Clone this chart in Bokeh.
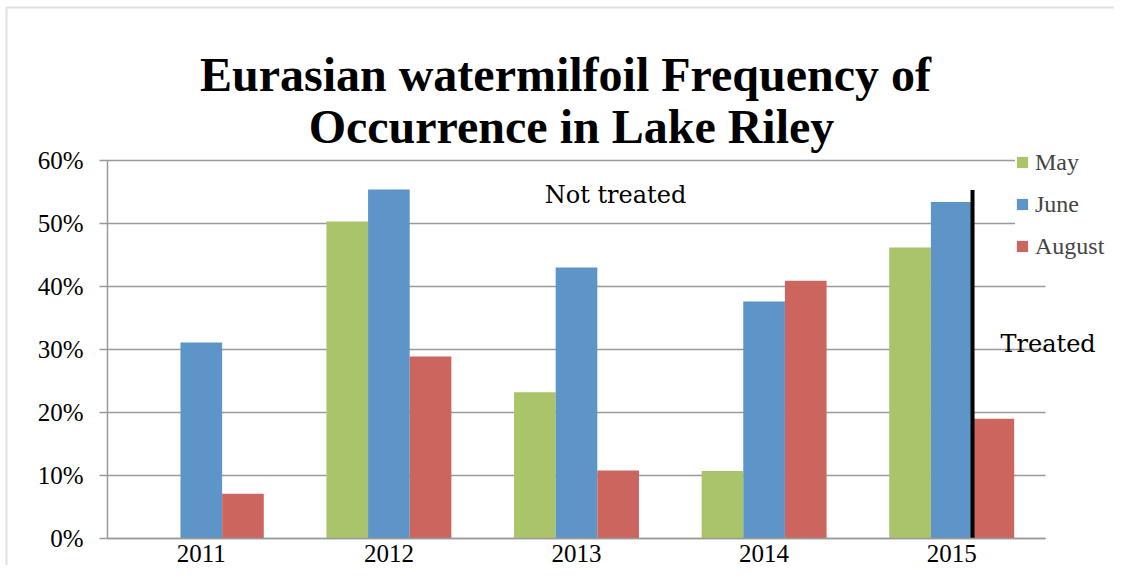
from bokeh.plotting import figure
from bokeh.models import (ColumnDataSource, Range1d, FixedTicker, LinearAxis,
                          NumeralTickFormatter, Label, BoxAnnotation)
from bokeh.transform import dodge
from bokeh.embed import file_html
from bokeh.resources import INLINE

# ---- data ----
years = ["2011", "2012", "2013", "2014", "2015"]
may = [0.0, 0.503, 0.232, 0.107, 0.462]
june = [0.311, 0.554, 0.430, 0.376, 0.534]
august = [0.071, 0.289, 0.108, 0.409, 0.190]
y_ticks = [0.0, 0.1, 0.2, 0.3, 0.4, 0.5, 0.6]
series_names = ["May", "June", "August"]
title_lines = ["Eurasian watermilfoil Frequency  of", "Occurrence in Lake Riley"]
treated_year = "2015"
treated_line_top = 0.553

colors = ["#AAC46A", "#5E95C8", "#CC655E"]
serif = "Liberation Serif"
grey = "#9a9a9a"

xpos = [i + 0.5 for i in range(len(years))]
src = ColumnDataSource(dict(xpos=xpos, year=years, may=may, june=june, august=august))

W, H = 1114, 565
# plot area: x 107..1045 px spans the 5 categories, y 538..160 px spans 0..60 %
px_per_cat = (1045 - 107) / len(years)
px_per_unit = (538 - 160) / 0.6
x_start = -107 / px_per_cat
x_end = (W - 107) / px_per_cat
y_start = (538 - H) / px_per_unit
y_end = 538 / px_per_unit


def dx(px):
    return (px - 107) / px_per_cat


def dy(py):
    return (538 - py) / px_per_unit


p = figure(width=W, height=H, x_range=Range1d(x_start, x_end),
           y_range=Range1d(y_start, y_end), output_backend="svg",
           toolbar_location=None, x_axis_type=None, y_axis_type=None,
           min_border=0)
p.outline_line_color = None
p.grid.visible = False

# grid lines
gsrc = ColumnDataSource(dict(y=y_ticks, x0=[0] * len(y_ticks), x1=[len(years)] * len(y_ticks)))
p.segment(x0="x0", x1="x1", y0="y", y1="y", source=gsrc, line_color=grey,
          line_width=1.5, level="underlay")

bw = 0.222
for col, off, c, name in zip(["may", "june", "august"], [-bw, 0, bw], colors, series_names):
    p.vbar(x=dodge("xpos", off), top=col, width=bw, source=src,
           fill_color=c, line_color=None, legend_label=name)

# treatment divider, at the right edge of the 2015 June bar
tx = xpos[years.index(treated_year)] + bw / 2
tsrc = ColumnDataSource(dict(x=[tx], top=[treated_line_top], bot=[0.0]))
p.segment(x0="x", x1="x", y0="bot", y1="top", source=tsrc, line_color="black",
          line_width=4)

# y axis
yax = LinearAxis(fixed_location=0, bounds=(0, 0.6))
yax.ticker = FixedTicker(ticks=y_ticks)
yax.formatter = NumeralTickFormatter(format="0%")
yax.minor_tick_line_color = None
yax.major_tick_in = 0
yax.major_tick_out = 8
yax.major_tick_line_color = grey
yax.major_tick_line_width = 1.5
yax.axis_line_color = grey
yax.axis_line_width = 1.5
yax.major_label_text_font = serif
yax.major_label_text_font_size = "25px"
yax.major_label_text_color = "black"
yax.major_label_standoff = 16
p.add_layout(yax, "left")

# x axis
xax = LinearAxis(fixed_location=0, bounds=(0, len(years)))
xax.ticker = FixedTicker(ticks=xpos)
xax.major_label_overrides = {x: y for x, y in zip(xpos, years)}
xax.minor_tick_line_color = None
xax.major_tick_in = 0
xax.major_tick_out = 0
xax.axis_line_color = grey
xax.axis_line_width = 1.5
xax.major_label_text_font = serif
xax.major_label_text_font_size = "25px"
xax.major_label_text_color = "black"
xax.major_label_standoff = 6
p.add_layout(xax, "below")

# outer chart border (top and left visible)
p.add_layout(BoxAnnotation(left=dx(6), top=dy(7), right=x_end + 1, bottom=y_start - 1,
                           fill_alpha=0, line_color=grey, line_width=2,
                           level="underlay"))

# title
for txt, py in zip(title_lines, [74, 126]):
    p.add_layout(Label(x=dx(571), y=dy(py), text=txt,
                       text_align="center", text_baseline="alphabetic",
                       text_font=serif, text_font_style="bold",
                       text_font_size="48px", text_color="black"))

# annotations
p.add_layout(Label(x=dx(615), y=dy(194), text="Not treated", text_align="center",
                   text_baseline="alphabetic", text_font="DejaVu Serif",
                   text_font_size="24px", text_color="black"))
p.add_layout(Label(x=dx(1000), y=dy(343), text="Treated", text_align="left",
                   text_baseline="alphabetic", text_font="DejaVu Serif",
                   text_font_size="24px", text_color="black"))

# legend
lg = p.legend[0]
lg.location = (1015, H - 260)
lg.background_fill_color = "white"
lg.background_fill_alpha = 1
lg.border_line_color = None
lg.label_text_font = serif
lg.label_text_font_size = "24px"
lg.glyph_width = 14
lg.glyph_height = 14
lg.label_standoff = 6
lg.label_height = 28
lg.spacing = 14
lg.padding = 4
lg.margin = 0

open("out.html", "w").write(file_html(p, INLINE))
